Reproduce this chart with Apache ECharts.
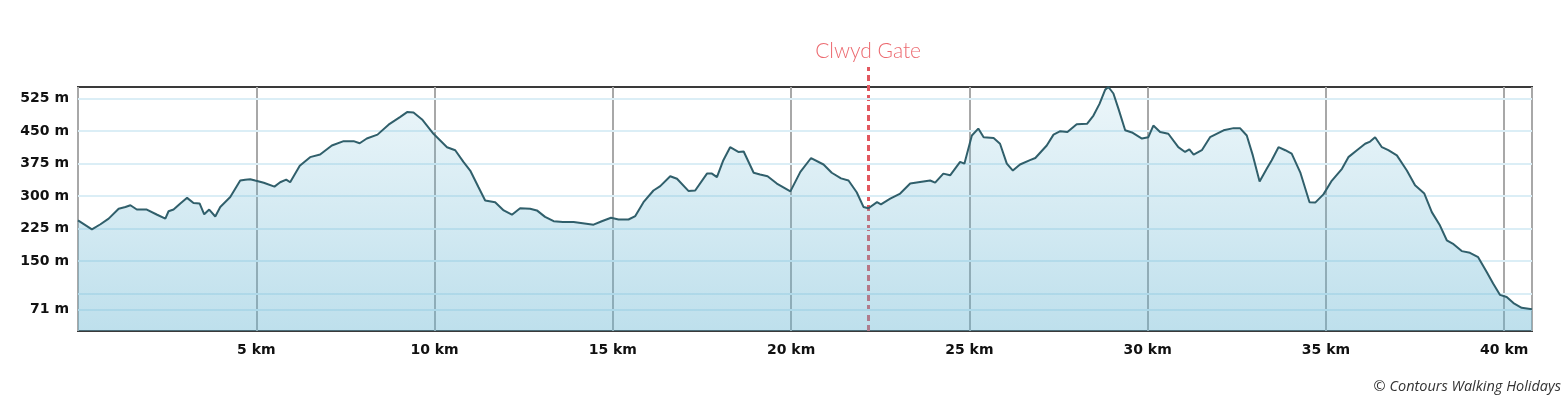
<!DOCTYPE html>
<html>
<head>
<meta charset="utf-8">
<script src="https://cdn.jsdelivr.net/npm/echarts@6/dist/echarts.min.js"></script>
<style>
html,body{margin:0;padding:0;background:#fff;}
#chart{width:1564px;height:403px;}
</style>
</head>
<body>
<div id="chart"></div>
<script>
// distance along route (km)
const distanceKm = [0.00,0.39,0.63,0.86,1.14,1.33,1.47,1.65,1.93,2.22,2.45,2.54,2.68,2.87,3.06,3.24,3.41,3.54,3.68,3.85,3.99,4.27,4.41,4.55,4.69,4.83,4.97,5.21,5.51,5.67,5.84,5.95,6.22,6.51,6.79,7.12,7.45,7.73,7.90,8.10,8.40,8.71,9.04,9.23,9.41,9.65,9.97,10.35,10.58,10.81,11.00,11.23,11.42,11.70,11.94,12.17,12.40,12.68,12.87,13.10,13.34,13.60,13.90,14.46,14.69,14.95,15.16,15.44,15.63,15.86,16.14,16.33,16.61,16.80,17.12,17.31,17.64,17.78,17.92,18.10,18.29,18.52,18.67,18.95,19.13,19.34,19.60,19.98,20.26,20.56,20.91,21.14,21.40,21.61,21.84,22.03,22.17,22.41,22.52,22.78,23.06,23.34,23.57,23.90,24.04,24.27,24.46,24.74,24.86,25.07,25.25,25.40,25.68,25.86,26.05,26.22,26.42,26.70,26.85,27.17,27.36,27.55,27.75,28.01,28.30,28.48,28.65,28.81,28.90,29.04,29.18,29.37,29.56,29.84,30.02,30.16,30.35,30.58,30.86,31.05,31.17,31.29,31.52,31.75,32.13,32.41,32.59,32.78,32.95,33.14,33.34,33.48,33.67,33.86,34.04,34.28,34.54,34.70,34.93,35.15,35.45,35.63,35.87,36.10,36.24,36.38,36.57,36.75,36.99,37.27,37.50,37.76,37.97,38.20,38.39,38.58,38.81,39.04,39.27,39.51,39.69,39.88,40.07,40.26,40.49,40.78];
// elevation (m, on the chart's vertical scale)
const elevationM = [244,223,235,248,271,275,279,269,269,257,248,265,269,283,296,284,283,258,269,253,275,298,317,336,338,339,336,331,322,332,338,332,370,390,396,417,427,427,422,433,442,465,483,494,493,477,444,413,406,379,359,321,290,286,267,257,272,271,267,252,242,240,240,234,242,250,246,246,254,286,313,323,346,340,312,313,352,352,344,383,413,402,403,354,350,346,329,311,356,388,373,354,341,336,309,275,272,286,281,294,306,329,332,336,331,352,348,379,375,440,456,436,434,421,375,359,373,383,388,417,442,450,448,466,467,486,513,546,552,537,502,452,447,433,436,463,448,444,413,402,408,396,406,436,452,457,457,440,394,334,363,383,413,406,398,355,286,285,304,334,363,390,406,421,426,436,413,406,394,359,325,306,263,232,198,189,173,169,159,125,98,72,67,53,42,39];

// y-axis labels
const yLabelValues = [38, 150, 225, 300, 375, 450, 525];
const yLabelTexts = ['71 m', '150 m', '225 m', '300 m', '375 m', '450 m', '525 m'];
// horizontal guide lines
const yGridValues = [38, 75, 150, 225, 300, 375, 450, 525];
// x ticks
const xTickInterval = 5;
const xMin = 0, xMax = 40.78;
const yMin = -11.5, yMax = 552;

// waypoint marker
const waypointName = 'Clwyd Gate';
const waypointKm = 22.16;

const credit = '\u00A9 Contours Walking Holidays';

const seriesData = distanceKm.map((d, i) => [d, elevationM[i]]);

const chart = echarts.init(document.getElementById('chart'), null, {renderer: 'canvas'});
const labelFont = 'DejaVu Sans';

chart.setOption({
  animation: false,
  backgroundColor: '#fff',
  title: {
    text: credit,
    right: 3,
    top: 379,
    padding: 0,
    textStyle: {fontStyle: 'italic', fontWeight: 'normal', fontSize: 14.5, color: '#333', fontFamily: 'Open Sans'}
  },
  grid: [
    {left: 78, right: 32, top: 87, bottom: 72, show: true, borderColor: '#3a3a3a', borderWidth: 2, backgroundColor: 'transparent', containLabel: false},
    {left: 78, right: 32, top: 67, bottom: 72, show: false, containLabel: false}
  ],
  xAxis: [
    {
      type: 'value', gridIndex: 0, min: xMin, max: xMax, interval: xTickInterval,
      axisLine: {show: false}, axisTick: {show: false},
      axisLabel: {
        margin: 12, fontSize: 14, fontWeight: 'bold', color: '#111', fontFamily: labelFont,
        showMaxLabel: false, showMinLabel: false,
        formatter: v => (v > 0 && Math.abs(v % xTickInterval) < 1e-9) ? v + ' km' : ''
      },
      splitLine: {show: true, lineStyle: {color: '#a8a8a8', width: 2}}
    },
    {type: 'value', gridIndex: 1, min: xMin, max: xMax, show: false}
  ],
  yAxis: [
    {
      type: 'value', gridIndex: 0, min: yMin, max: yMax,
      axisLine: {show: false}, axisTick: {show: false},
      splitLine: {show: false},
      axisLabel: {
        customValues: yLabelValues,
        margin: 9, fontSize: 14, fontWeight: 'bold', color: '#111', fontFamily: labelFont,
        formatter: v => {
          const i = yLabelValues.indexOf(v);
          return i >= 0 ? yLabelTexts[i] : '';
        }
      }
    },
    {type: 'value', gridIndex: 1, min: 0, max: 1, show: false}
  ],
  series: [
    {
      type: 'line', xAxisIndex: 1, yAxisIndex: 1, z: 1,
      data: [[xMin, 0]], showSymbol: false, symbol: 'none',
      lineStyle: {opacity: 0}, silent: true,
      markLine: {
        silent: true, symbol: 'none', z: 1, animation: false,
        lineStyle: {color: '#e2575f', width: 3, type: [6, 4]},
        label: {
          show: true, position: 'end', distance: 5, formatter: waypointName,
          color: '#ec6a70', fontSize: 21, fontFamily: 'Lato', fontWeight: 300
        },
        data: [{xAxis: waypointKm}]
      }
    },
    {
      type: 'line', xAxisIndex: 0, yAxisIndex: 0, z: 3,
      data: seriesData, showSymbol: false, symbol: 'none',
      lineStyle: {color: '#305f6b', width: 2},
      areaStyle: {
        origin: 'start',
        color: new echarts.graphic.LinearGradient(0, 0, 0, 1, [
          {offset: 0, color: 'rgba(100,180,210,0.17)'},
          {offset: 1, color: 'rgba(100,180,210,0.6)'}
        ])
      },
      markLine: {
        silent: true, symbol: 'none', z: 1, animation: false,
        label: {show: false},
        lineStyle: {color: '#dbeef6', width: 2, type: 'solid'},
        data: yGridValues.map(v => ({yAxis: v}))
      }
    }
  ]
});
</script>
</body>
</html>
